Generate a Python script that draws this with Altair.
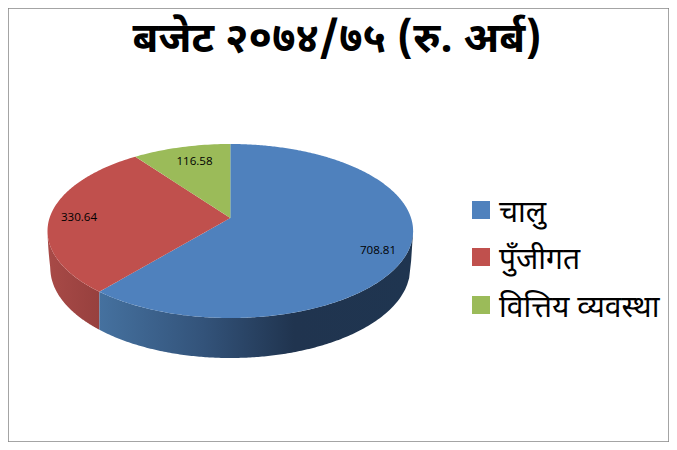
import math
import altair as alt
import pandas as pd

title_text = "बजेट २०७४/७५ (रु. अर्ब)"
categories = ["चालु", "पुँजीगत", "वित्तिय व्यवस्था"]
values = [708.81, 330.64, 116.58]
value_labels = ["708.81", "330.64", "116.58"]
colors = ["#4F81BD", "#C0504D", "#9BBB59"]

CX, CY, RX, RY = 230.3, 231.0, 182.8, 87.0      # top ellipse
HUB_Y = 218.0                                   # tilted hub
LCY, LRX, LRY = 268.0, 180.0, 90.0              # bottom ellipse
SKEW = 5.0                                      # perspective shift of inner slice edges

total = sum(values)
cum = [0.0]
for v in values:
    cum.append(cum[-1] + v / total * 360)
bounds = [0.0] + [a + SKEW for a in cum[1:-1]] + [360.0]


def rim(t):
    r = math.radians(t)
    return CX + RX * math.sin(r), CY - RY * math.cos(r)


def bands(i):
    """Turn a slice outline into x / upper y / lower y rows for an area mark."""
    a, b = bounds[i], bounds[i + 1]
    n = max(2, int(b - a))
    poly = [(CX, HUB_Y)] + [rim(a + (b - a) * k / n) for k in range(n + 1)]
    edges = list(zip(poly, poly[1:] + poly[:1]))
    xs = set()
    for px, _ in poly:
        xs.update([px - 0.001, px + 0.001])
    rows = []
    for x in sorted(xs):
        hits = []
        for (x0, y0), (x1, y1) in edges:
            if min(x0, x1) <= x <= max(x0, x1) and x0 != x1:
                hits.append(y0 + (y1 - y0) * (x - x0) / (x1 - x0))
        if len(hits) >= 2:
            rows.append({"x": x, "y": min(hits), "y2": max(hits), "i": i})
    return rows


def top_front(x):
    d = (x - CX) / RX
    return CY + RY * math.sqrt(max(0.0, 1 - d * d))


def bottom_front(x):
    dx = abs(x - CX)
    if dx <= LRX:
        return LCY + LRY * math.sqrt(max(0.0, 1 - (dx / LRX) ** 2))
    f = (dx - LRX) / (RX - LRX)
    return LCY + (top_front(x) - LCY) * f


def wall(x0, x1):
    n = 160
    rows = []
    for k in range(n + 1):
        x = x0 + (x1 - x0) * k / n
        rows.append({"x": x, "y": top_front(x), "y2": bottom_front(x)})
    return pd.DataFrame(rows)


XS = alt.Scale(domain=[8, 669], nice=False, zero=False)
YS = alt.Scale(domain=[442, 8], nice=False, zero=False)
X = alt.X("x:Q", scale=XS, axis=None)
Y = alt.Y("y:Q", scale=YS, axis=None)


def gradient(stops):
    return alt.LinearGradient(
        gradient="linear", x1=0, x2=1, y1=0, y2=0,
        stops=[alt.GradientStop(offset=o, color=c) for o, c in stops],
    )


split_x = rim(bounds[1])[0]
red_wall = alt.Chart(wall(CX - RX, split_x)).mark_area(
    color=gradient([(0, "#A84A47"), (1, "#97403E")])
).encode(x=X, y=Y, y2="y2:Q")
blue_wall = alt.Chart(wall(split_x, CX + RX)).mark_area(
    color=gradient([(0, "#45719F"), (0.33, "#33537A"), (0.62, "#20344F"), (1, "#1F3550")])
).encode(x=X, y=Y, y2="y2:Q")

slices = []
for i in range(len(values)):
    slices.append(
        alt.Chart(pd.DataFrame(bands(i))).mark_area(color=colors[i])
        .encode(x=X, y=Y, y2="y2:Q")
    )

label_df = pd.DataFrame({
    "x": [378, 79, 194.5],
    "y": [251, 218, 162],
    "t": value_labels,
})
labels = alt.Chart(label_df).mark_text(font="Open Sans", fontSize=11.6, color="#000000").encode(
    x=X, y=Y, text="t:N"
)

legend_df = pd.DataFrame({
    "x": [481] * 3,
    "tx": [499] * 3,
    "y": [210, 257, 305],
    "ty": [213, 260, 308],
    "t": categories,
    "c": colors,
})
swatches = alt.Chart(legend_df).mark_square(size=324, opacity=1).encode(
    x=X, y=Y, color=alt.Color("c:N", scale=None)
)
legend_text = alt.Chart(legend_df).mark_text(
    align="left", fontSize=30, font="Noto Sans Devanagari, Noto Sans, DejaVu Sans", color="#000000"
).encode(
    x=alt.X("tx:Q", scale=XS, axis=None),
    y=alt.Y("ty:Q", scale=YS, axis=None),
    text="t:N",
)

title = alt.Chart(pd.DataFrame({"x": [337], "y": [39], "t": [title_text]})).mark_text(
    fontSize=42, fontWeight="bold", font="Noto Sans Devanagari, Noto Sans, DejaVu Sans", color="#000000"
).encode(x=X, y=Y, text="t:N")

chart = alt.layer(red_wall, blue_wall, *slices, labels, swatches, legend_text, title).properties(
    width=661, height=434, padding=0, background="white",
    autosize=alt.AutoSizeParams(type="none"),
).configure_view(stroke="#868686", strokeWidth=1.5)

chart.save("out.html", embed_options={"renderer": "svg", "actions": False})
